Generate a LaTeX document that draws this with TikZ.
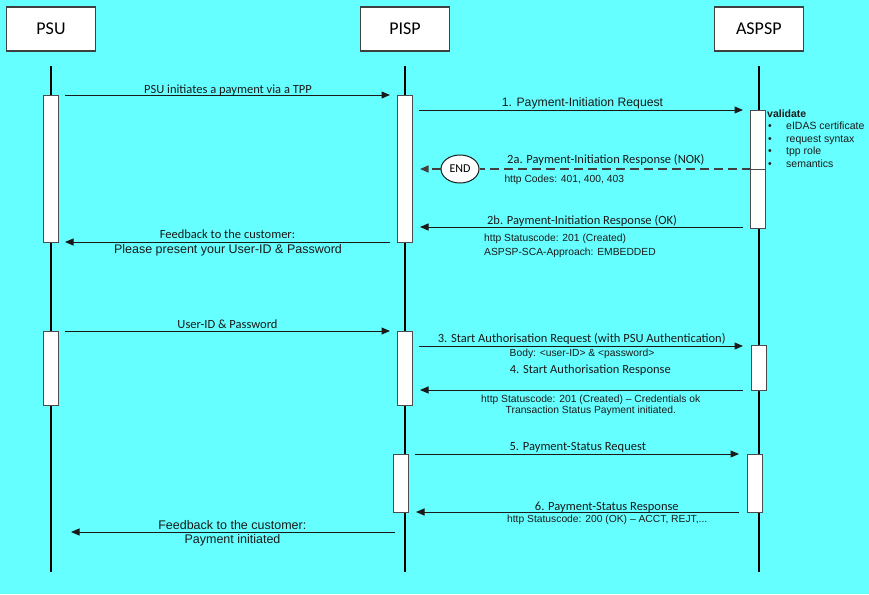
\documentclass[tikz,border=0pt]{standalone}
\usepackage{fontspec}
\newfontfamily\fcal{Carlito}
\newfontfamily\fari{Liberation Sans}
\usetikzlibrary{arrows.meta,shapes.geometric}
\definecolor{bg}{HTML}{66FFFF}
\definecolor{ink}{HTML}{1A1A1A}
\begin{document}
\begin{tikzpicture}[x=1pt,y=-1pt,
  actor/.style={draw=black!75, line width=1.1pt, fill=white, minimum width=89pt, minimum height=44pt, inner sep=0pt, font=\fcal\fontsize{18}{20}\selectfont},
  life/.style={line width=2pt, draw=black},
  bar/.style={draw=black!70, line width=0.9pt, fill=white, minimum width=15pt, inner sep=0pt},
  msg/.style={draw=ink, line width=1pt, -{Triangle[length=8.5pt,width=7pt]}},
  lc/.style={font=\fcal\fontsize{12.5}{14}\selectfont, anchor=base, inner sep=0pt, text=ink},
  la/.style={font=\fari\fontsize{10.3}{12}\selectfont, anchor=base, inner sep=0pt, text=ink},
  lab/.style={font=\fari\fontsize{12.5}{14}\selectfont, anchor=base, inner sep=0pt, text=ink},
  vt/.style={font=\fari\fontsize{10.5}{12}\selectfont, anchor=base west, inner sep=0pt, text=ink},
]
\useasboundingbox (0,0) rectangle (869,594);
\fill[bg] (0,0) rectangle (869,594);

% actors
\node[actor] (psu) at (51,29) {PSU};
\node[actor] (pisp) at (405,29) {PISP};
\node[actor] (aspsp) at (758.8,29) {ASPSP};

% lifelines
\coordinate (psuT) at (51,66);  \coordinate (psuB) at (51,572);
\coordinate (pispT) at (405,66); \coordinate (pispB) at (405,572);
\coordinate (aspT) at (759,66);  \coordinate (aspB) at (759,572);
\draw[life] (psuT) -- (psuB);
\draw[life] (pispT) -- (pispB);
\draw[life] (aspT) -- (aspB);

% activation bars
\node[bar, minimum height=147pt] (psub1) at (51,168.5) {};
\node[bar, minimum height=147pt] (pispb1) at (405,168.5) {};
\node[bar, minimum height=118pt] (aspb1) at (758.2,169) {};
\node[bar, minimum height=74pt] (psub2) at (51,368) {};
\node[bar, minimum height=74pt] (pispb2) at (405,368) {};
\node[bar, minimum height=44.5pt] (aspb2) at (759.2,368) {};
\node[bar, minimum height=58pt] (pispb3) at (401,483) {};
\node[bar, minimum height=58pt] (aspb3) at (755,483) {};
\draw[draw=black!70, line width=0.9pt] (aspb1.west |- 0,169) -- (aspb1.east |- 0,169);

% message end points
\coordinate (m0s) at (65,95);   \coordinate (m0e) at (390,95);
\coordinate (m1s) at (419,110); \coordinate (m1e) at (743,110);
\coordinate (m2as) at (751,169); \coordinate (m2ae) at (420,169);
\coordinate (m2bs) at (743,227); \coordinate (m2be) at (420,227);
\coordinate (f1s) at (390,242); \coordinate (f1e) at (65,242);
\coordinate (u1s) at (65,331);  \coordinate (u1e) at (390,331);
\coordinate (m3s) at (419,346); \coordinate (m3e) at (743,346);
\coordinate (m4s) at (743,390); \coordinate (m4e) at (420,390);
\coordinate (m5s) at (415,454); \coordinate (m5e) at (739,454);
\coordinate (m6s) at (739,512); \coordinate (m6e) at (416,512);
\coordinate (f2s) at (395,532); \coordinate (f2e) at (71,532);

\node[draw=ink, line width=1pt, fill=white, ellipse, minimum width=38pt, minimum height=28pt, inner sep=0pt, font=\fcal\fontsize{12}{13}\selectfont] (end) at (460,169) {END};

% messages
\draw[msg] (m0s) -- (m0e);
\draw[msg] (m1s) -- (m1e);
\draw[draw=black!75, line width=1.4pt, dash pattern=on 9pt off 5pt] (m2as) -- (end.east);
\draw[msg, draw=black!75, line width=1.4pt, dash pattern=on 9pt off 5pt] (end.west) -- (m2ae);
\draw[msg] (m2bs) -- (m2be);
\draw[msg] (f1s) -- (f1e);
\draw[msg] (u1s) -- (u1e);
\draw[msg] (m3s) -- (m3e);
\draw[msg] (m4s) -- (m4e);
\draw[msg] (m5s) -- (m5e);
\draw[msg] (m6s) -- (m6e);
\draw[msg] (f2s) -- (f2e);

% labels
\node[lc] (t0) at (228,93) {PSU initiates a payment via a TPP};
\node[lab, font=\fari\fontsize{12.2}{14}\selectfont] (t1) at (582.5,106.7) {1. Payment-Initiation Request};
\node[vt, font=\fari\bfseries\fontsize{10.5}{12}\selectfont] (v0) at (767,117) {validate};
\node[vt] (v1b) at (768,129.7) {\textbullet};
\node[vt] (v1) at (786,129.7) {eIDAS certificate};
\node[vt] (v2b) at (768,142.3) {\textbullet};
\node[vt] (v2) at (786,142.3) {request syntax};
\node[vt] (v3b) at (768,154.5) {\textbullet};
\node[vt] (v3) at (786,154.5) {tpp role};
\node[vt] (v4b) at (768,167.3) {\textbullet};
\node[vt] (v4) at (786,167.3) {semantics};
\node[lc] (t2a) at (605.8,163.3) {2a. Payment-Initiation Response (NOK)};
\node[la, anchor=base west] (t2ac) at (504.3,182.3) {http Codes: 401, 400, 403};
\node[lc] (t2b) at (582,224) {2b. Payment-Initiation Response (OK)};
\node[la, anchor=base west] (t2bc) at (484,241.3) {http Statuscode: 201 (Created)};
\node[la, anchor=base west] (t2bd) at (484,255) {ASPSP-SCA-Approach: EMBEDDED};
\node[lc] (tf1) at (227.5,238.3) {Feedback to the customer:};
\node[lab] (tf1b) at (228,253.3) {Please present your User-ID \& Password};
\node[lc] (tu) at (227.5,328.7) {User-ID \& Password};
\node[lc] (t3) at (581.7,342.7) {3. Start Authorisation Request (with PSU Authentication)};
\node[la] (t3b) at (582,356) {Body: <user-ID> \& <password>};
\node[lc] (t4) at (590.3,373.7) {4. Start Authorisation Response};
\node[la] (t4b) at (590.7,402) {http Statuscode: 201 (Created) – Credentials ok};
\node[la] (t4c) at (590.8,413.3) {Transaction Status Payment initiated.};
\node[lc] (t5) at (577.8,450) {5. Payment-Status Request};
\node[lc] (t6) at (606.8,510) {6. Payment-Status Response};
\node[la] (t6b) at (607.2,522.7) {http Statuscode: 200 (OK) – ACCT, REJT,...};
\node[lab] (tf2) at (232.3,529) {Feedback to the customer:};
\node[lab] (tf2b) at (232.5,543.3) {Payment initiated};
\end{tikzpicture}
\end{document}
